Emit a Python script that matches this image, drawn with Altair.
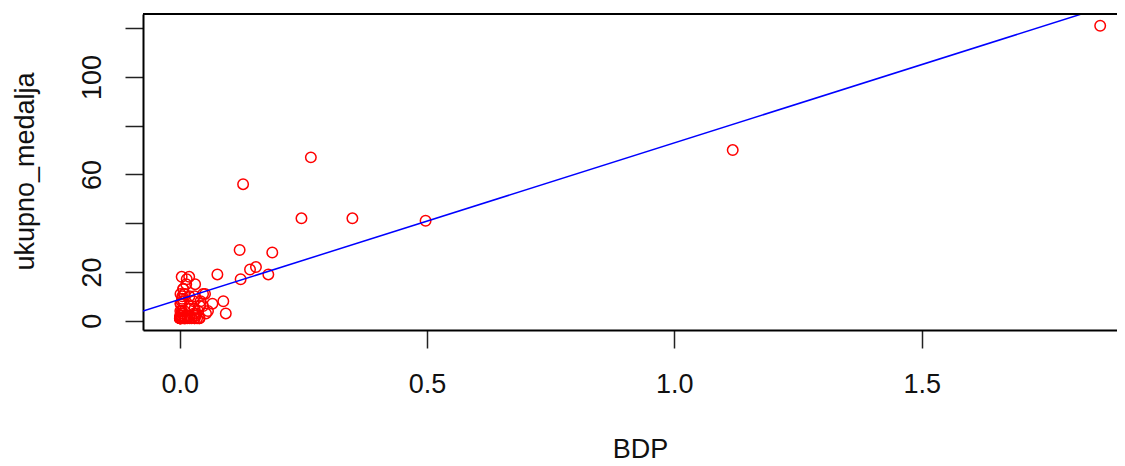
import altair as alt
import pandas as pd

# GDP (BDP) values
bdp = [
    1.861, 1.118, 0.497, 0.349, 0.265, 0.246, 0.128, 0.121, 0.187, 0.154,
    0.142, 0.179, 0.123, 0.076, 0.088, 0.093, 0.066, 0.057,
    0.051, 0.047, 0.047, 0.053, 0.042, 0.041, 0.040, 0.039, 0.037, 0.035,
    0.033, 0.032, 0.031, 0.030, 0.030, 0.030, 0.030, 0.030, 0.028, 0.029,
    0.024, 0.020, 0.020, 0.0195, 0.019, 0.019, 0.019, 0.016, 0.015, 0.014,
    0.013, 0.011, 0.010, 0.010, 0.009, 0.009, 0.009, 0.007, 0.007, 0.007,
    0.0067, 0.0053, 0.005, 0.0048, 0.0044, 0.0043, 0.0042, 0.0039, 0.0038,
    0.0038, 0.0036, 0.0032, 0.0023, 0.0022, 0.0017, 0.0014, 0.0014, 0.0011,
    0.0011, 0.0009, 0.00075, 0.0007, 0.00066, 0.00047, 0.0003, 0.0001,
]
# total medals (ukupno_medalja)
medalje = [
    121, 70, 41, 42, 67, 42, 56, 29, 28, 22,
    21, 19, 17, 19, 8, 3, 7, 4,
    11, 11, 6, 3, 8, 6, 1, 1, 4, 1,
    3, 2, 15, 10, 5, 1, 1, 2, 8, 3,
    1, 1, 2, 10, 5, 6, 18, 2, 1, 17,
    15, 1, 1, 1, 4, 11, 11, 8, 1, 13,
    13, 3, 10, 9, 4, 4, 3, 1, 8,
    18, 2, 2, 1, 1, 7, 7, 11, 4,
    2, 2, 1, 1, 1, 1, 1, 1,
]

# regression line (abline) end points
line_x = [-0.0744, 1.895]
line_y = [4.0, 130.4]

x_ticks = [0.0, 0.5, 1.0, 1.5]
y_ticks = [0, 20, 40, 60, 80, 100, 120]

df = pd.DataFrame({"BDP": bdp, "ukupno_medalja": medalje})
ldf = pd.DataFrame({"BDP": line_x, "ukupno_medalja": line_y})

W, H = 974, 316
FONT = "Liberation Sans"
FS = 27

xscale = alt.Scale(domain=[-0.0744, 1.895], nice=False, zero=False)
yscale = alt.Scale(domain=[-3.8, 125.8], nice=False, zero=False)

xaxis = alt.Axis(
    values=x_ticks, format=".1f", grid=False, domain=True, domainColor="#000",
    domainWidth=2, tickSize=18, tickWidth=1.5, tickColor="#222",
    labelFont=FONT, labelFontSize=FS, labelColor="#111", labelBaseline="alphabetic",
    labelPadding=44, labelAlign="center",
    title="BDP", titleFont=FONT, titleFontSize=FS, titleFontWeight="normal",
    titleColor="#111", titleX=497, titleY=127, titleBaseline="alphabetic",
    titleAlign="center",
)
yaxis = alt.Axis(
    values=y_ticks, grid=False, domain=True, domainColor="#000", domainWidth=2,
    tickSize=18, tickWidth=1.5, tickColor="#222",
    labelExpr="(datum.value == 40 || datum.value == 80 || datum.value == 120) ? '' : datum.label",
    labelFont=FONT, labelFontSize=FS, labelColor="#111", labelAngle=270,
    labelAlign="center", labelBaseline="alphabetic", labelPadding=25,
    title="ukupno_medalja", titleFont=FONT, titleFontSize=FS,
    titleFontWeight="normal", titleColor="#111", titleAngle=270,
    titleX=-110, titleY=157, titleAlign="center", titleBaseline="alphabetic",
)

points = alt.Chart(df).mark_point(
    shape="circle", filled=False, color="#ff0000", size=110, strokeWidth=1.5, opacity=1
).encode(
    x=alt.X("BDP:Q", scale=xscale, axis=xaxis),
    y=alt.Y("ukupno_medalja:Q", scale=yscale, axis=yaxis),
)

line = alt.Chart(ldf).mark_line(color="#0000ff", strokeWidth=1.5, clip=True).encode(
    x=alt.X("BDP:Q", scale=xscale),
    y=alt.Y("ukupno_medalja:Q", scale=yscale),
)

top_border = alt.Chart(pd.DataFrame({"a": [0]})).mark_rule(
    color="#000", strokeWidth=2
).encode(x=alt.value(0), x2=alt.value(W), y=alt.value(0))

chart = alt.layer(points, line, top_border).properties(
    width=W, height=H,
    autosize=alt.AutoSizeParams(type="none"),
    padding={"left": 135, "top": 6, "right": 0, "bottom": 136},
).configure_view(stroke=None).configure(background="white")

chart.save("out.html", embed_options={"renderer": "svg", "actions": False})
